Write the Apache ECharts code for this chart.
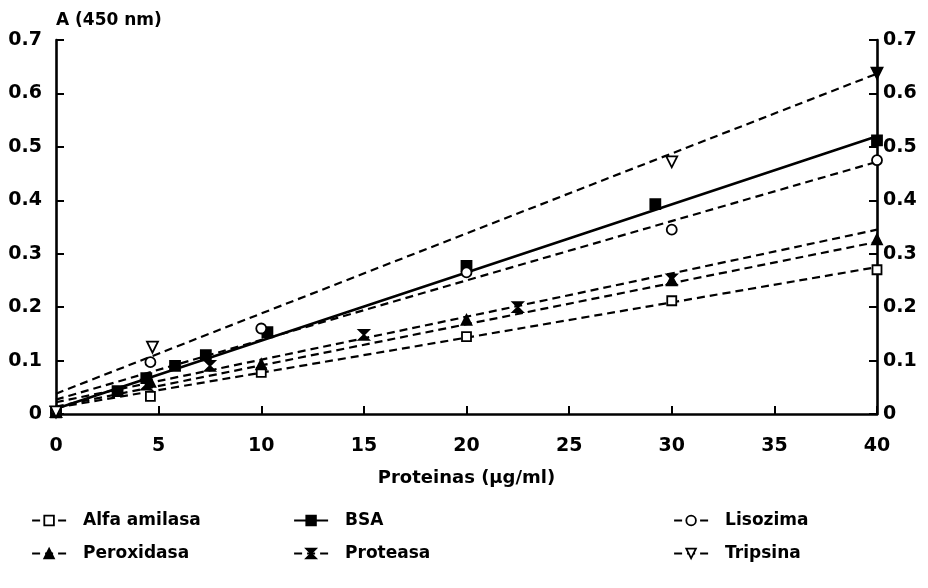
<!DOCTYPE html>
<html>
<head>
<meta charset="utf-8">
<script src="https://cdn.jsdelivr.net/npm/echarts@6/dist/echarts.min.js"></script>
<style>
  html, body { margin: 0; padding: 0; background: #fff; }
  #chart { width: 928px; height: 588px; }
</style>
</head>
<body>
<div id="chart"></div>
<script>
// Absorbance at 450 nm versus protein concentration (µg/ml)
const proteinNames = ['Alfa amilasa', 'BSA', 'Lisozima', 'Peroxidasa', 'Proteasa', 'Tripsina'];

// Measured points
const alfaX = [0, 4.6, 10, 20, 30, 40];
const alfaY = [0.004, 0.033, 0.078, 0.145, 0.212, 0.27];
const bsaX = [0, 3, 4.4, 5.8, 7.3, 10.3, 20, 29.2, 40];
const bsaY = [0.003, 0.043, 0.067, 0.09, 0.11, 0.153, 0.277, 0.393, 0.512];
const lisoX = [0, 4.6, 10, 20, 30, 40];
const lisoY = [0.004, 0.097, 0.16, 0.265, 0.345, 0.475];
const peroX = [0, 4.6, 10, 20, 30, 40];
const peroY = [0.004, 0.06, 0.093, 0.176, 0.25, 0.327];
const protX = [0, 4.4, 7.5, 15, 22.5, 30];
const protY = [0.004, 0.055, 0.09, 0.148, 0.2, 0.252];
const tripX = [0, 4.7, 30, 40];
const tripY = [0.004, 0.125, 0.472, 0.638];

// Fitted calibration lines, sampled at fitX
const fitX = [0, 20, 40];
const alfaFit = [0.012, 0.143, 0.275];
const bsaFit = [0.01, 0.265, 0.52];
const lisoFit = [0.027, 0.25, 0.472];
const peroFit = [0.014, 0.168, 0.322];
const protFit = [0.022, 0.182, 0.345];
const tripFit = [0.038, 0.338, 0.637];

// Axis ranges
const xMin = 0, xMax = 40, xStep = 5;
const yMin = 0, yMax = 0.7, yStep = 0.1;

const BLACK = '#000';
const FONT = 'DejaVu Sans';

const invTriangle = 'path://M0,0 L10,0 L5,9 Z';
const hourglass = 'path://M0,0 L10,0 L5,5 L10,10 L0,10 L5,5 Z';

const groups = [
  { name: 'Alfa amilasa', x: alfaX, y: alfaY, fit: alfaFit, symbol: 'rect', fill: '#fff', size: 9, dashed: true },
  { name: 'BSA', x: bsaX, y: bsaY, fit: bsaFit, symbol: 'rect', fill: BLACK, size: 10, dashed: false },
  { name: 'Lisozima', x: lisoX, y: lisoY, fit: lisoFit, symbol: 'circle', fill: '#fff', size: 10, dashed: true },
  { name: 'Peroxidasa', x: peroX, y: peroY, fit: peroFit, symbol: 'triangle', fill: BLACK, size: 10, dashed: true },
  { name: 'Proteasa', x: protX, y: protY, fit: protFit, symbol: hourglass, fill: BLACK, size: 10, dashed: true },
  { name: 'Tripsina', x: tripX, y: tripY, fit: tripFit, symbol: invTriangle, fill: '#fff', size: 11, dashed: true }
];

const series = [];
groups.forEach(function (g) {
  const style = { color: g.fill, borderColor: BLACK, borderWidth: 1.8, opacity: 1 };
  // fitted line (first, so the legend takes its dash + marker icon)
  series.push({
    type: 'line',
    name: g.name,
    data: fitX.map(function (x, i) { return [x, g.fit[i]]; }),
    smooth: 0.5,
    symbol: g.symbol,
    symbolSize: g.size,
    showSymbol: false,
    silent: true,
    animation: false,
    itemStyle: style,
    lineStyle: { color: BLACK, width: g.dashed ? 2.2 : 2.6, type: g.dashed ? [8, 5] : 'solid' },
    z: 2
  });
  // measured points
  series.push({
    type: 'scatter',
    name: g.name,
    data: g.x.map(function (x, i) {
      const item = { value: [x, g.y[i]] };
      // the marker sitting on the right-hand axis is drawn solid
      if (g.name === 'Tripsina' && x === 40) item.itemStyle = { color: BLACK };
      return item;
    }),
    symbol: g.symbol,
    symbolSize: g.size,
    itemStyle: style,
    clip: false,
    animation: false,
    z: 3
  });
});

const legendText = { fontFamily: FONT, fontWeight: 'bold', fontSize: 17, color: BLACK, padding: [0, 0, 0, 12] };
function legendColumn(left, names) {
  return {
    orient: 'vertical',
    left: left,
    top: 507,
    itemWidth: 34,
    itemHeight: 12,
    itemGap: 16,
    selectedMode: false,
    data: names,
    textStyle: legendText,
    itemStyle: { borderWidth: 1.8 },
    lineStyle: { width: 2.2 }
  };
}

const axisLine = { show: true, lineStyle: { color: BLACK, width: 2.6 } };
const tickStyle = { show: true, inside: true, length: 8, lineStyle: { color: BLACK, width: 2 } };
const labelStyle = { color: BLACK, fontFamily: FONT, fontWeight: 'bold', fontSize: 19 };

const option = {
  backgroundColor: '#fff',
  animation: false,
  grid: { left: 56, right: 51, top: 40, bottom: 174, containLabel: false },
  xAxis: {
    type: 'value',
    min: xMin, max: xMax, interval: xStep,
    name: 'Proteinas (µg/ml)',
    nameLocation: 'middle',
    nameGap: 55,
    nameTextStyle: { color: BLACK, fontFamily: FONT, fontWeight: 'bold', fontSize: 18 },
    axisLine: axisLine,
    axisTick: tickStyle,
    axisLabel: Object.assign({ margin: 23 }, labelStyle),
    splitLine: { show: false }
  },
  yAxis: [
    {
      type: 'value',
      position: 'left',
      min: yMin, max: yMax, interval: yStep,
      name: 'A (450 nm)',
      nameLocation: 'end',
      nameGap: 11,
      nameTextStyle: { color: BLACK, fontFamily: FONT, fontWeight: 'bold', fontSize: 17, align: 'left' },
      axisLine: axisLine,
      axisTick: tickStyle,
      axisLabel: Object.assign({ margin: 14 }, labelStyle),
      splitLine: { show: false }
    },
    {
      type: 'value',
      position: 'right',
      min: yMin, max: yMax, interval: yStep,
      axisLine: axisLine,
      axisTick: tickStyle,
      axisLabel: Object.assign({ margin: 6 }, labelStyle),
      splitLine: { show: false }
    }
  ],
  legend: [
    legendColumn(26, [proteinNames[0], proteinNames[3]]),
    legendColumn(288, [proteinNames[1], proteinNames[4]]),
    legendColumn(668, [proteinNames[2], proteinNames[5]])
  ],
  series: series
};

const chart = echarts.init(document.getElementById('chart'), null, { renderer: 'canvas' });
chart.setOption(option);
</script>
</body>
</html>
